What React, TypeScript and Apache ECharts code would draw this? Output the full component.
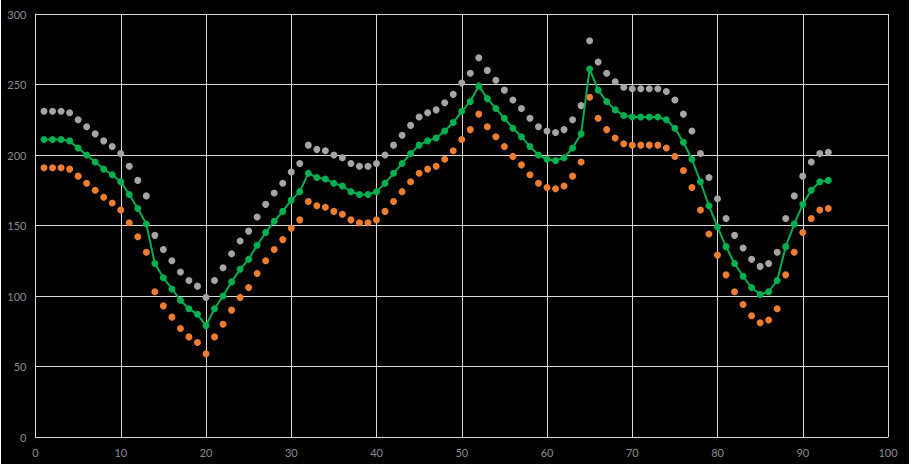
import React, { useEffect, useRef } from "react";
import * as echarts from "echarts";

const xValues = [
  1, 2, 3, 4, 5, 6, 7, 8, 9, 10, 11, 12, 13, 14, 15, 16, 17, 18, 19, 20,
  21, 22, 23, 24, 25, 26, 27, 28, 29, 30, 31, 32, 33, 34, 35, 36, 37, 38, 39, 40,
  41, 42, 43, 44, 45, 46, 47, 48, 49, 50, 51, 52, 53, 54, 55, 56, 57, 58, 59, 60,
  61, 62, 63, 64, 65, 66, 67, 68, 69, 70, 71, 72, 73, 74, 75, 76, 77, 78, 79, 80,
  81, 82, 83, 84, 85, 86, 87, 88, 89, 90, 91, 92, 93,
];

const greenValues = [
  211, 211, 211, 210, 205, 200, 195, 190, 186, 181, 172, 162, 151, 123, 113, 105, 97, 91, 87, 79,
  91, 100, 110, 119, 126, 136, 145, 153, 160, 168, 174, 187, 184, 183, 180, 178, 174, 172, 172, 174,
  180, 187, 194, 201, 207, 210, 212, 217, 223, 231, 238, 249, 240, 233, 226, 219, 213, 206, 200, 197,
  196, 198, 205, 215, 261, 246, 238, 232, 228, 227, 227, 227, 227, 225, 219, 209, 197, 181, 164, 149,
  135, 123, 114, 106, 101, 103, 111, 135, 151, 165, 175, 181, 182,
];

const grayValues = [
  231, 231, 231, 230, 225, 220, 215, 210, 206, 201, 192, 182, 171, 143, 133, 125, 117, 111, 107, 99,
  111, 120, 130, 139, 146, 156, 165, 173, 180, 188, 194, 207, 204, 203, 200, 198, 194, 192, 192, 194,
  200, 207, 214, 221, 227, 230, 232, 237, 243, 251, 258, 269, 260, 253, 246, 239, 233, 226, 220, 217,
  216, 218, 225, 235, 281, 266, 258, 252, 248, 247, 247, 247, 247, 245, 239, 229, 217, 201, 184, 169,
  155, 143, 134, 126, 121, 123, 131, 155, 171, 185, 195, 201, 202,
];

const orangeValues = [
  191, 191, 191, 190, 185, 180, 175, 170, 166, 161, 152, 142, 131, 103, 93, 85, 77, 71, 67, 59,
  71, 80, 90, 99, 106, 116, 125, 133, 140, 148, 154, 167, 164, 163, 160, 158, 154, 152, 152, 154,
  160, 167, 174, 181, 187, 190, 192, 197, 203, 211, 218, 229, 220, 213, 206, 199, 193, 186, 180, 177,
  176, 178, 185, 195, 241, 226, 218, 212, 208, 207, 207, 207, 207, 205, 199, 189, 177, 161, 144, 129,
  115, 103, 94, 86, 81, 83, 91, 115, 131, 145, 155, 161, 162,
];

const pair = (vals: number[]) => xValues.map((x, i) => [x, vals[i]]);

export default function App() {
  const ref = useRef<HTMLDivElement>(null);
  useEffect(() => {
    if (!ref.current) return;
    const chart = echarts.init(ref.current, undefined, { renderer: "svg" });
    const lineColor = "#d9d9d9";
    const labelStyle = { color: "#8c8c8c", fontFamily: "Lato, 'Open Sans', sans-serif", fontSize: 11 };
    chart.setOption({
      animation: false,
      backgroundColor: "#000000",
      grid: { left: 34.5, right: 21, top: 14, bottom: 27, containLabel: false },
      xAxis: {
        type: "value",
        min: 0,
        max: 100,
        interval: 10,
        axisLine: { show: true, lineStyle: { color: lineColor, width: 1 } },
        axisTick: { show: false },
        axisLabel: { ...labelStyle, margin: 10 },
        splitLine: { show: true, lineStyle: { color: lineColor, width: 1 } },
      },
      yAxis: {
        type: "value",
        min: 0,
        max: 300,
        interval: 50,
        axisLine: { show: true, lineStyle: { color: lineColor, width: 1 } },
        axisTick: { show: false },
        axisLabel: { ...labelStyle, margin: 9 },
        splitLine: { show: true, lineStyle: { color: lineColor, width: 1 } },
      },
      series: [
        {
          type: "scatter",
          data: pair(grayValues),
          symbol: "circle",
          symbolSize: 7,
          itemStyle: { color: "#a5a5a5", opacity: 1 },
        },
        {
          type: "scatter",
          data: pair(orangeValues),
          symbol: "circle",
          symbolSize: 7,
          itemStyle: { color: "#ed7d31", opacity: 1 },
        },
        {
          type: "line",
          data: pair(greenValues),
          symbol: "circle",
          symbolSize: 7,
          showSymbol: true,
          lineStyle: { color: "#00b050", width: 2 },
          itemStyle: { color: "#00b050", borderColor: "#00b050", borderWidth: 0, opacity: 1 },
        },
      ],
    });
    return () => chart.dispose();
  }, []);
  return (
    <div style={{ position: "fixed", left: 0, top: 0, width: 911, height: 466, background: "#ffffff" }}>
      <div ref={ref} style={{ position: "absolute", left: 1, top: 0, width: 908, height: 464 }} />
    </div>
  );
}
